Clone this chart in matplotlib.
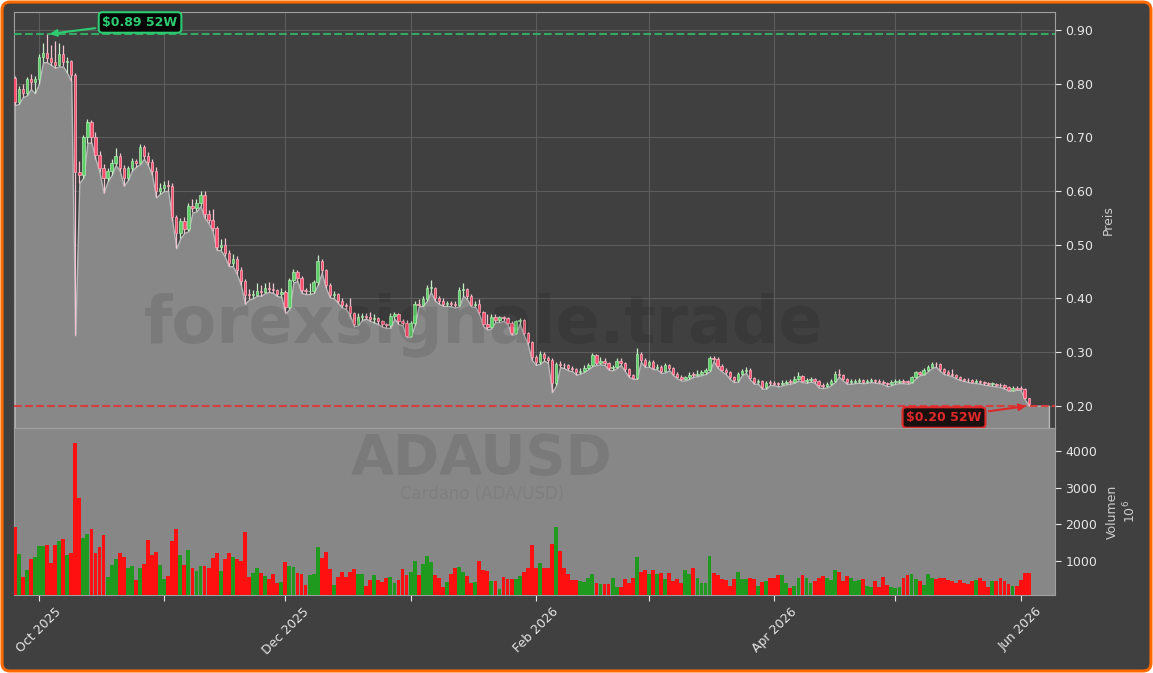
import numpy as np
import pandas as pd
import matplotlib
matplotlib.use("Agg")
import matplotlib.pyplot as plt
import matplotlib.dates as mdates
from matplotlib.patches import FancyBboxPatch
from matplotlib.ticker import FuncFormatter, FormatStrFormatter

# daily ADA/USD candles, 2025-09-25 .. 2026-06-03
first_day = "2025-09-25"
last_day = "2026-06-03"
fill_end = "2026-06-08"
first_open = 0.81

close = [
    .765, .79, .782, .808, .803, .808,
    .85, .858, .848, .84, .835, .855, .84, .842, .816, .635, .63, .70, .728, .70, .667, .642,
    .624, .638, .652, .665, .642, .624, .642, .655, .652, .682, .666, .654, .637, .60, .605,
    .612, .61, .551, .521, .545, .53, .573, .568, .577, .592, .557, .546, .531, .495, .50,
    .484, .465, .474, .452, .432, .407, .406, .407, .413, .411, .42, .418, .415, .408, .412,
    .383, .434, .45, .438, .415, .413, .414, .43, .47, .452, .424, .407, .409, .396, .387, .385,
    .372, .352, .365, .368, .366, .362, .364, .358, .352, .35, .368, .37, .357, .355, .33,
    .354, .39, .388, .398, .42, .42, .40, .395, .39, .391, .39, .388, .415, .418, .405, .388,
    .39, .374, .352, .346, .366, .36, .365, .363, .355, .336, .357, .36, .335, .318, .29,
    .281, .297, .289, .286, .243, .278, .276, .275, .27, .268, .262, .265, .27, .276, .294,
    .279, .284, .279, .27, .272, .284, .279, .268, .257, .252, .297, .285, .276,
    .282, .271, .273, .264, .276, .27, .26, .254, .25, .253, .258, .257, .26, .262, .266, .288,
    .287, .274, .267, .262, .253, .247, .26, .264, .266, .251, .244, .246, .234, .243, .242,
    .241, .24, .243, .245, .244, .25, .255, .246, .248, .249, .246, .238, .236, .24, .246,
    .26, .258, .25, .244, .245, .246, .248, .245, .246, .248, .246, .245, .243, .24, .244,
    .245, .246, .245, .244, .253, .262, .26, .266, .272, .278, .277, .268, .262, .26, .258,
    .254, .25, .248, .247, .245, .246, .244, .242, .24, .241, .239, .238, .234, .23, .233, .232,
    .231, .214, .203,
]
high = [
    .815, .795, .80, .812, .818, .815,
    .855, .875, .892, .872, .88, .875, .872, .85, .845, .82, .655, .705, .735, .732, .71, .675,
    .65, .642, .66, .68, .67, .648, .646, .662, .66, .688, .685, .672, .66, .645, .615,
    .618, .62, .615, .556, .55, .552, .578, .585, .585, .60, .60, .565, .567, .535, .51,
    .512, .49, .482, .478, .458, .436, .418, .415, .428, .425, .428, .43, .428, .418, .42,
    .415, .438, .455, .452, .442, .42, .428, .435, .48, .473, .455, .428, .414, .41, .40, .392,
    .40, .375, .372, .372, .372, .375, .37, .366, .36, .355, .372, .374, .372, .362, .36,
    .358, .395, .398, .405, .425, .435, .422, .405, .40, .395, .396, .395, .422, .428, .42, .408,
    .395, .398, .376, .37, .37, .37, .368, .368, .366, .358, .36, .364, .362, .338, .32,
    .295, .302, .30, .293, .288, .282, .284, .28, .278, .274, .27, .27, .275, .28, .298,
    .297, .29, .288, .282, .276, .288, .288, .282, .27, .26, .307, .30, .288,
    .286, .285, .277, .276, .28, .278, .272, .262, .257, .256, .262, .262, .266, .266, .27, .292,
    .293, .29, .277, .27, .265, .256, .263, .268, .272, .27, .254, .25, .248, .246, .247,
    .246, .245, .247, .248, .25, .256, .262, .258, .252, .253, .252, .248, .242, .245, .25,
    .264, .268, .26, .252, .249, .25, .252, .25, .25, .252, .25, .249, .248, .245, .247,
    .249, .25, .249, .248, .256, .265, .265, .27, .276, .282, .281, .279, .27, .266, .268,
    .26, .256, .252, .251, .249, .25, .248, .246, .245, .244, .243, .242, .24, .236, .236, .237,
    .236, .233, .215,
]
low = [
    .76, .762, .775, .778, .79, .782,
    .80, .84, .84, .835, .83, .832, .832, .82, .805, .331, .615, .625, .69, .69, .66, .635,
    .597, .618, .63, .648, .638, .61, .62, .638, .645, .65, .66, .648, .63, .588, .595,
    .60, .60, .545, .493, .512, .522, .525, .56, .562, .572, .55, .54, .525, .49, .49,
    .478, .46, .46, .445, .425, .39, .398, .40, .405, .405, .41, .412, .41, .404, .403,
    .372, .38, .43, .432, .41, .408, .408, .41, .425, .448, .42, .402, .40, .392, .383, .38,
    .368, .348, .35, .36, .362, .358, .355, .352, .347, .345, .345, .362, .352, .35, .328,
    .328, .35, .385, .386, .395, .412, .396, .39, .386, .386, .385, .383, .385, .405, .398, .385,
    .384, .37, .348, .342, .344, .356, .356, .358, .352, .332, .334, .353, .332, .315, .285,
    .276, .278, .284, .28, .225, .238, .272, .27, .266, .264, .258, .26, .263, .268, .274,
    .276, .277, .276, .267, .266, .27, .276, .265, .254, .25, .25, .282, .272,
    .273, .268, .268, .261, .262, .266, .257, .251, .247, .247, .25, .254, .255, .257, .259, .264,
    .283, .271, .264, .259, .25, .244, .245, .257, .261, .249, .241, .241, .232, .232, .239,
    .238, .236, .238, .24, .241, .243, .247, .244, .243, .245, .243, .234, .233, .234, .238,
    .244, .254, .247, .241, .241, .242, .243, .242, .243, .244, .243, .242, .24, .236, .238,
    .241, .242, .242, .241, .243, .251, .257, .258, .264, .27, .273, .265, .259, .257, .255,
    .251, .248, .246, .244, .243, .242, .241, .239, .238, .237, .236, .235, .232, .228, .228, .23,
    .229, .212, .20,
]
# volume in millions
volume = [
    1935, 1190, 572, 755, 1055, 1118,
    1410, 1420, 1436, 955, 1436, 1555, 1610, 1164, 1218, 4200, 2718, 1636, 1727, 1873, 1218,
    1373, 1710, 572, 890, 1045, 1218, 1118, 818, 864, 480, 818, 918, 1573, 1164, 1245, 890,
    500, 590, 1545, 1873, 1164, 890, 1300, 818, 727, 864, 864, 800, 1090, 1218, 727,
    1055, 1218, 1118, 1064, 1010, 1790, 572, 664, 818, 680, 590, 518, 645, 390, 418,
    973, 864, 836, 664, 645, 345, 627, 645, 1382, 1090, 1245, 790, 345, 572, 700, 572,
    700, 790, 645, 645, 327, 480, 618, 480, 427, 536, 555, 400, 480, 790, 618,
    700, 1000, 620, 909, 1150, 964, 618, 527, 300, 418, 645, 800, 845, 709, 590, 390,
    418, 1000, 755, 727, 455, 455, 236, 555, 500, 500, 500, 600, 700, 818, 1436,
    818, 936, 818, 818, 1464, 1935, 1273, 818, 645, 482, 482, 464, 436, 536, 645,
    409, 373, 373, 373, 536, 300, 300, 518, 409, 545, 1100, 700, 745,
    636, 745, 636, 682, 509, 673, 455, 500, 409, 745, 636, 818, 545, 400, 400, 1136,
    682, 618, 500, 482, 318, 500, 700, 500, 518, 536, 518, 318, 427, 455, 536,
    536, 618, 618, 409, 273, 318, 536, 618, 536, 390, 464, 536, 590, 545, 490,
    755, 709, 464, 590, 536, 464, 482, 509, 318, 282, 455, 300, 564, 345, 300,
    273, 300, 536, 618, 645, 509, 464, 345, 636, 527, 500, 527, 527, 482, 464,
    391, 482, 391, 364, 445, 491, 527, 464, 300, 455, 445, 527, 464, 364, 327, 327,
    480, 664, 664,
]

dates = pd.date_range(first_day, last_day, freq="D")
c = np.array(close)
h = np.array(high)
l = np.array(low)
o = np.array([first_open] + close[:-1])
v = np.array(volume, dtype=float)
up = c >= o

BG = "#404040"
fig = plt.figure(figsize=(11.53, 6.73), dpi=100)
fig.patch.set_facecolor("white")
frame = FancyBboxPatch((0.02, 0.02), 11.49, 6.69,
                       boxstyle="round,pad=0,rounding_size=0.08",
                       transform=fig.dpi_scale_trans, fc=BG, ec="#ff6a00",
                       lw=2.2, zorder=-10)
fig.add_artist(frame)

ax = fig.add_axes([14 / 1153, 1 - 428 / 673, 1041 / 1153, 416 / 673])
axv = fig.add_axes([14 / 1153, 1 - 595 / 673, 1041 / 1153, 167 / 673], sharex=ax)

# price panel
ax.set_facecolor(BG)
fx = list(dates) + [pd.Timestamp(fill_end)]
fy = list(l) + [l[-1]]
ax.fill_between(fx, fy, 0, color="#888888", edgecolor="#b8b8b8", lw=1, zorder=2)

wick_col = np.where(up, "#c8ecc8", "#f2c4d0")
face_col = np.where(up, "#5cd068", "#ff4d6d")
edge_col = np.where(up, "#b0eab0", "#ffb3c2")
ax.vlines(dates, l, h, colors=wick_col, lw=0.9, zorder=3)
body = np.maximum(np.abs(c - o), 0.0015)
ax.bar(dates, body, bottom=np.minimum(o, c), width=0.6, color=face_col,
       edgecolor=edge_col, lw=0.5, zorder=4)

hi_i = int(np.argmax(h))
lo_i = int(np.argmin(l))
hi, lo = h[hi_i], l[lo_i]
ax.axhline(hi, color="#33b567", ls="--", lw=1.5, alpha=0.9, zorder=5)
ax.axhline(lo, color="#e03535", ls="--", lw=1.5, alpha=0.9, zorder=5)
ax.annotate(rf"\${hi:.2f} 52W", xy=(dates[hi_i], hi), xytext=(67, 8.5),
            textcoords="offset points", ha="center", va="center",
            fontsize=9, fontweight="bold", color="#2ecc71", zorder=6,
            bbox=dict(boxstyle="round,pad=0.3", fc="#050505", ec="#2ecc71", lw=1.5),
            arrowprops=dict(arrowstyle="-|>", color="#2ecc71", lw=1.5,
                            mutation_scale=10))
ax.annotate(rf"\${lo:.2f} 52W", xy=(dates[lo_i], lo), xytext=(-61, -8.5),
            textcoords="offset points", ha="center", va="center",
            fontsize=9, fontweight="bold", color="#e02828", zorder=6,
            bbox=dict(boxstyle="round,pad=0.3", fc="#1a1010", ec="#e02828", lw=1.5),
            arrowprops=dict(arrowstyle="-|>", color="#e02828", lw=1.5,
                            mutation_scale=10))

span = hi - lo
ax.set_ylim(lo - 0.06 * span, hi + 0.06 * span)
ax.set_xlim(pd.Timestamp("2025-09-24 20:00"), pd.Timestamp("2026-06-09 12:00"))
ax.set_yticks(np.arange(0.2, 0.91, 0.1))
ax.yaxis.set_major_formatter(FormatStrFormatter("%.2f"))
ax.yaxis.tick_right()
ax.yaxis.set_label_position("right")
ax.set_ylabel("Preis", color="#cccccc", fontsize=9, labelpad=6)
ax.grid(True, color="#5c5c5c", lw=0.8, zorder=0)
ax.set_axisbelow(True)
ax.tick_params(axis="x", which="both", labelbottom=False, length=0)
ax.tick_params(axis="y", colors="#e6e6e6", labelsize=9, length=4)

# volume panel
axv.set_facecolor("#878787")
vcol = np.where(up, "#1f9a1f", "#ff1010")
axv.bar(dates, v, width=0.95, color=vcol, lw=0, zorder=3)
axv.set_ylim(75, v.max() * 1.1)
axv.set_yticks([1000, 2000, 3000, 4000])
axv.yaxis.tick_right()
axv.yaxis.set_label_position("right")
axv.set_ylabel("Volumen\n$10^6$", color="#cccccc", fontsize=9, labelpad=6)
axv.tick_params(axis="y", colors="#e6e6e6", labelsize=9, length=4)

axv.xaxis.set_major_locator(mdates.MonthLocator())
axv.xaxis.set_major_formatter(FuncFormatter(
    lambda x, pos: mdates.num2date(x).strftime("%b %Y")
    if mdates.num2date(x).month % 2 == 0 else ""))
axv.tick_params(axis="x", colors="#e6e6e6", labelsize=9, length=4)
plt.setp(axv.get_xticklabels(), rotation=45, ha="center")

for a in (ax, axv):
    for s in a.spines.values():
        s.set_color("#a0a0a0")
        s.set_linewidth(0.8)

# watermarks
fig.text(0.419, 0.517, "forexsignale.trade", fontsize=47, fontweight="bold",
         color="black", alpha=0.1, ha="center", va="center", zorder=20)
fig.text(0.418, 0.318, "ADAUSD", fontsize=40, fontweight="bold",
         color="black", alpha=0.09, ha="center", va="center", zorder=20)
fig.text(0.418, 0.266, "Cardano (ADA/USD)", fontsize=12,
         color="black", alpha=0.06, ha="center", va="center", zorder=20)

fig.savefig("out.png", dpi=100, facecolor=fig.get_facecolor())
